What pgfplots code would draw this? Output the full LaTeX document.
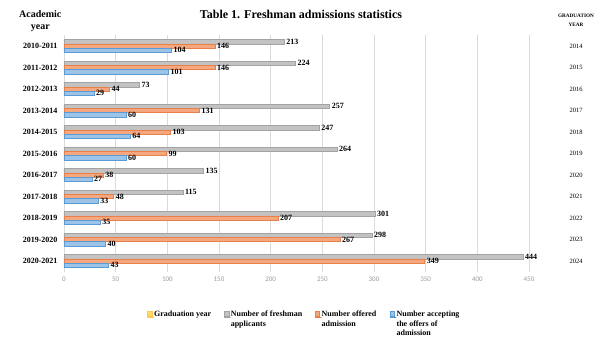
\documentclass[border=0pt]{standalone}
\usepackage{fontspec}
\setmainfont{Liberation Serif}
\newfontfamily\calibri{Carlito}
\usepackage{pgfplots}
\pgfplotsset{compat=1.18}
\definecolor{cgray}{HTML}{C3C3C3}
\definecolor{cgrayd}{HTML}{A3A3A3}
\definecolor{corange}{HTML}{F5A780}
\definecolor{coranged}{HTML}{E8804A}
\definecolor{cblue}{HTML}{9DC3E6}
\definecolor{cblued}{HTML}{5B9BD5}
\definecolor{cyellow}{HTML}{FFD966}
\definecolor{cgrid}{HTML}{DADADA}
\begin{document}
\begin{tikzpicture}
\path[use as bounding box] (0,0) rectangle (600pt,344pt);
\begin{axis}[
  at={(64pt,72.25pt)}, anchor=south west,
  scale only axis, width=465pt, height=236.5pt,
  xbar=0pt, bar width=4.2pt,
  xmin=0, xmax=450, ymin=-0.5, ymax=10.5,
  y dir=reverse,
  xtick={0,50,...,450},
  ytick={0,...,10},
  yticklabels={2010-2011,2011-2012,2012-2013,2013-2014,2014-2015,2015-2016,2016-2017,2017-2018,2018-2019,2019-2020,2020-2021},
  axis line style={draw=none},
  major tick length=0pt,
  xmajorgrids, major grid style={cgrid, line width=0.8pt},
  /pgf/number format/assume math mode=true,
  xticklabel style={font=\calibri\fontsize{7}{8}\selectfont, text=gray!80, yshift=-2pt},
  yticklabel style={font=\bfseries\fontsize{8}{9}\selectfont, xshift=-3pt},
  nodes near coords,
  every node near coord/.append style={font=\bfseries\fontsize{8}{9}\selectfont, text=black, inner xsep=2pt},
  legend image code/.code={\path (0pt,0pt) rectangle (6.5pt,0pt); \draw[#1, line width=0.3pt] (0pt,0.7pt) rectangle (4.6pt,5.3pt);},
  legend columns=4,
  legend style={at={(axis description cs:0.1785,-0.166)}, anchor=north west, draw=none, fill=none, inner sep=0pt,
    font=\bfseries\fontsize{8}{9.5}\selectfont,
    cells={anchor=base west}, nodes={inner sep=0pt}, column sep=0pt},
]
\addlegendimage{fill=cyellow, draw=cyellow!80!orange}
\addlegendentry{\parbox[t]{69.8pt}{\raggedright Graduation year}}
\addplot[fill=cgray, draw=cgrayd, bar shift=4.2pt] coordinates {
(213,0) (224,1) (73,2) (257,3) (247,4) (264,5) (135,6) (115,7) (301,8) (298,9) (444,10)};
\addlegendentry{\parbox[t]{84pt}{\raggedright Number of freshman\\applicants}}
\addplot[fill=corange, draw=coranged, bar shift=0pt] coordinates {
(146,0) (146,1) (44,2) (131,3) (103,4) (99,5) (38,6) (48,7) (207,8) (267,9) (349,10)};
\addlegendentry{\parbox[t]{68pt}{\raggedright Number offered\\admission}}
\addplot[fill=cblue, draw=cblued, bar shift=-4.2pt] coordinates {
(104,0) (101,1) (29,2) (60,3) (64,4) (60,5) (27,6) (33,7) (35,8) (40,9) (43,10)};
\addlegendentry{\parbox[t]{70pt}{\raggedright Number accepting\\the offers of\\admission}}
\end{axis}
\begin{axis}[
  at={(64pt,72.25pt)}, anchor=south west,
  scale only axis, width=465pt, height=236.5pt,
  xmin=0, xmax=1, ymin=-0.5, ymax=10.5, y dir=reverse,
  axis line style={draw=none}, xtick=\empty,
  ytick={0,...,10},
  yticklabels={2014,2015,2016,2017,2018,2019,2020,2021,2022,2023,2024},
  yticklabel pos=right, major tick length=0pt,
  yticklabel style={anchor=center, xshift=47pt, font=\fontsize{6.5}{7}\selectfont},
]
\addplot[draw=none] coordinates {(0,0) (0,10)};
\end{axis}
\node[font=\bfseries\fontsize{12}{14}\selectfont] at (301pt,330pt) {Table 1. Freshman admissions statistics};
\node[align=center, font=\bfseries\fontsize{10}{12}\selectfont] at (40.3pt,323pt) {Academic\\year};
\node[align=center, font=\bfseries\fontsize{5.2}{8.5}\selectfont] at (576pt,323.5pt) {GRADUATION\\YEAR};
\end{tikzpicture}
\end{document}
